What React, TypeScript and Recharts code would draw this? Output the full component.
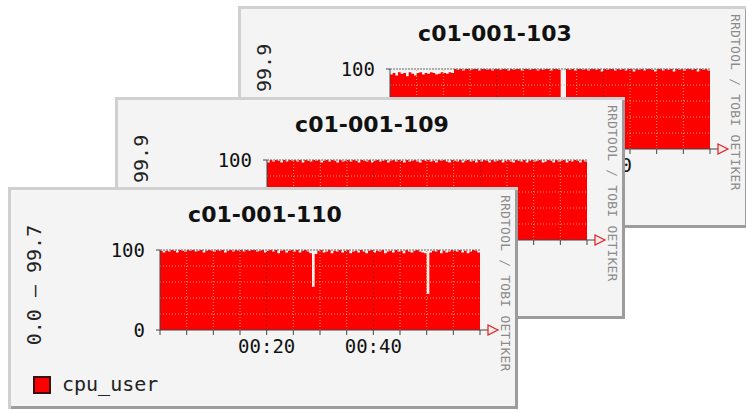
import { Area, AreaChart, ReferenceDot, ReferenceLine, XAxis, YAxis } from "recharts";

// one sample every 30 s over the hour shown (index * 0.5 min)
const SAMPLE_MINUTES = 0.5;

const hosts = ["c01-001-103", "c01-001-109", "c01-001-110"];
const rangeLabels = ["0.0 – 99.9", "0.0 – 99.9", "0.0 – 99.7"];

const cpu103: (number | null)[] = [
  93, 95, 92, 96, 94, 95, 91, 96, 94, 92,
  95, 96, 93, 95, 94, 96, 95, 93, 94, 96,
  95, 94, 96, 95, 100, 99, 100, 98, 100, 100,
  99, 100, 100, 98, 100, 100, 99, 100, 98, 100,
  100, 99, 100, 100, 98, 100, 99, 100, 100, 98,
  100, 100, 99, 100, 100, 98, 100, 99, 100, 100,
  98, 100, 100, 99, 100, null, 100, 99, 100, 98,
  100, 100, 99, 100, 98, 100, 100, 99, 100, 97,
  100, 99, 100, 100, 98, 100, 99, 100, 98, 100,
  100, 97, 100, 99, 100, 98, 100, 100, 99, 97,
  100, 100, 98, 100, 99, 100, 97, 100, 99, 100,
  98, 100, 100, 99, 100, 97, 100, 99, 100, 98,
  100,
];

const cpu109: number[] = [
  97, 100, 98, 100, 99, 97, 100, 98, 100, 99,
  100, 98, 100, 97, 100, 99, 98, 100, 99, 100,
  97, 99, 100, 98, 100, 99, 97, 100, 98, 99,
  100, 98, 100, 99, 97, 100, 99, 98, 100, 97,
  99, 100, 98, 99, 100, 97, 99, 100, 98, 100,
  99, 97, 100, 98, 99, 100, 98, 97, 100, 99,
  100, 98, 99, 97, 100, 99, 100, 98, 97, 100,
  99, 98, 100, 97, 99, 100, 98, 99, 97, 100,
  98, 100, 99, 97, 100, 98, 99, 100, 97, 99,
  100, 98, 97, 100, 99, 98, 100, 97, 99, 100,
  98, 99, 100, 97, 98, 100, 99, 97, 100, 98,
  99, 100, 97, 99, 98, 100, 99, 97, 100, 98,
  99,
];

const cpu110: number[] = [
  99, 97, 99, 98, 100, 99, 97, 100, 99, 98,
  100, 99, 100, 98, 99, 100, 97, 99, 100, 99,
  98, 100, 99, 100, 97, 99, 100, 98, 100, 99,
  100, 98, 100, 99, 100, 100, 98, 99, 100, 97,
  99, 100, 98, 100, 96, 99, 100, 97, 99, 100,
  98, 100, 97, 99, 100, 98, 96, 54, 95, 99,
  100, 97, 98, 100, 96, 99, 98, 100, 97, 99,
  100, 96, 98, 99, 97, 100, 98, 96, 99, 100,
  97, 99, 98, 100, 96, 98, 99, 97, 100, 98,
  99, 96, 100, 98, 97, 99, 100, 98, 97, 96,
  45, 97, 99, 98, 100, 96, 99, 97, 98, 100,
  99, 98, 100, 97, 99, 96, 98, 100, 99, 97,
  99,
];

const series = [cpu103, cpu109, cpu110];

const majorMinutes = [20, 40];
const majorLabels = ["00:20", "00:40"];
const tickMinutes = [0, 5, 10, 15, 20, 25, 30, 35, 40, 45, 50, 55, 60];
const minorMinutes = [5, 10, 15, 25, 30, 35, 45, 50, 55];
const minorValues = [20, 40, 60, 80];
const valueTicks = [0, 100];

// card placement on the page (back to front)
const cardSpots = [
  { left: 238, top: 6 },
  { left: 115, top: 97 },
  { left: 8, top: 187 },
];

const CARD_W = 510;
const CARD_H = 222;
const RED = "#ff0000";
const MONO = "'DejaVu Sans Mono', monospace";

function Arrow(props: { cx?: number; cy?: number }) {
  const { cx = 0, cy = 0 } = props;
  return (
    <path
      d={`M${cx},${cy - 5}L${cx + 10},${cy}L${cx},${cy + 5}Z`}
      fill="#fbeaea"
      stroke="#e02020"
      strokeWidth={1.2}
    />
  );
}

function RrdCard({
  title,
  range,
  values,
  left,
  top,
}: {
  title: string;
  range: string;
  values: (number | null)[];
  left: number;
  top: number;
}) {
  const data = values.map((v, i) => ({ t: i * SAMPLE_MINUTES, cpu_user: v }));

  return (
    <div
      style={{
        position: "absolute",
        left,
        top,
        width: CARD_W,
        height: CARD_H,
        background: "#f4f4f4",
        boxShadow: "inset 3px 3px 0 #d0d0d0, inset -3px -3px 0 #9c9c9c",
      }}
    >
      <AreaChart
        width={CARD_W}
        height={CARD_H}
        data={data}
        margin={{ top: 63, right: 34, bottom: 49, left: 92 }}
      >
        <XAxis
          dataKey="t"
          type="number"
          domain={[0, 60]}
          allowDataOverflow
          ticks={tickMinutes}
          tickFormatter={(v: number) => majorLabels[majorMinutes.indexOf(v)] ?? ""}
          height={30}
          tickSize={5}
          tickMargin={5}
          axisLine={{ stroke: "#444" }}
          tickLine={{ stroke: "#444" }}
          tick={{ fill: "#111", fontSize: 19, fontFamily: MONO }}
        />
        <XAxis
          xAxisId="top"
          dataKey="t"
          type="number"
          orientation="top"
          domain={[0, 60]}
          allowDataOverflow
          ticks={tickMinutes}
          tickFormatter={() => ""}
          height={0}
          tickSize={3}
          axisLine={false}
          tickLine={{ stroke: "#444" }}
        />
        <YAxis
          domain={[0, 100]}
          ticks={valueTicks}
          width={60}
          tickSize={4}
          tickMargin={11}
          axisLine={{ stroke: "#444" }}
          tickLine={{ stroke: "#444" }}
          tick={{ fill: "#111", fontSize: 19, fontFamily: MONO }}
        />
        <YAxis
          yAxisId="right"
          orientation="right"
          domain={[0, 100]}
          ticks={[0, 20, 40, 60, 80, 100]}
          tickFormatter={() => ""}
          width={4}
          tickSize={3}
          axisLine={false}
          tickLine={{ stroke: "#777" }}
        />
        <Area
          dataKey="cpu_user"
          name="cpu_user"
          type="stepAfter"
          stroke="none"
          fill={RED}
          fillOpacity={1}
          isAnimationActive={false}
        />
        {minorValues.map((v) => (
          <ReferenceLine key={`h${v}`} y={v} stroke="#e8b050" strokeDasharray="1 2" />
        ))}
        {minorMinutes.map((m) => (
          <ReferenceLine key={`v${m}`} x={m} stroke="#e8b050" strokeDasharray="1 2" />
        ))}
        {majorMinutes.map((m) => (
          <ReferenceLine key={`m${m}`} x={m} stroke="#a01818" strokeDasharray="2 2" />
        ))}
        <ReferenceLine y={100} stroke="#666" strokeDasharray="2 1" />
        <ReferenceLine
          segment={[
            { x: 60, y: 0 },
            { x: 61.5, y: 0 },
          ]}
          ifOverflow="visible"
          stroke="#444"
        />
        <ReferenceDot x={61.5} y={0} ifOverflow="visible" shape={<Arrow />} />
      </AreaChart>

      <div
        style={{
          position: "absolute",
          left: 0,
          top: 15,
          width: CARD_W + 4,
          textAlign: "center",
          fontFamily: "'DejaVu Sans', sans-serif",
          fontWeight: "bold",
          fontSize: 22,
          lineHeight: "26px",
          color: "#111",
        }}
      >
        {title}
      </div>

      <div
        style={{
          position: "absolute",
          left: 26,
          top: 98,
          transform: "translate(-50%, -50%) rotate(-90deg)",
          whiteSpace: "nowrap",
          fontFamily: MONO,
          fontSize: 20,
          lineHeight: "20px",
          color: "#222",
        }}
      >
        {range}
      </div>

      <div
        style={{
          position: "absolute",
          left: 490,
          top: 8,
          writingMode: "vertical-rl",
          whiteSpace: "nowrap",
          fontFamily: MONO,
          fontSize: 13,
          lineHeight: "14px",
          letterSpacing: 0.2,
          color: "#8a8a8a",
        }}
      >
        RRDTOOL / TOBI OETIKER
      </div>

      <div
        style={{
          position: "absolute",
          left: 25,
          top: 189,
          width: 14,
          height: 14,
          background: RED,
          border: "2px solid #3a1010",
        }}
      />
      <div
        style={{
          position: "absolute",
          left: 54,
          top: 187,
          fontFamily: MONO,
          fontSize: 20,
          lineHeight: "20px",
          color: "#222",
        }}
      >
        cpu_user
      </div>
    </div>
  );
}

export default function App() {
  return (
    <div
      style={{
        position: "fixed",
        left: 0,
        top: 0,
        width: 746,
        height: 410,
        overflow: "hidden",
        background: "#fff",
      }}
    >
      {hosts.map((h, i) => (
        <RrdCard
          key={h}
          title={h}
          range={rangeLabels[i]}
          values={series[i]}
          left={cardSpots[i].left}
          top={cardSpots[i].top}
        />
      ))}
    </div>
  );
}
